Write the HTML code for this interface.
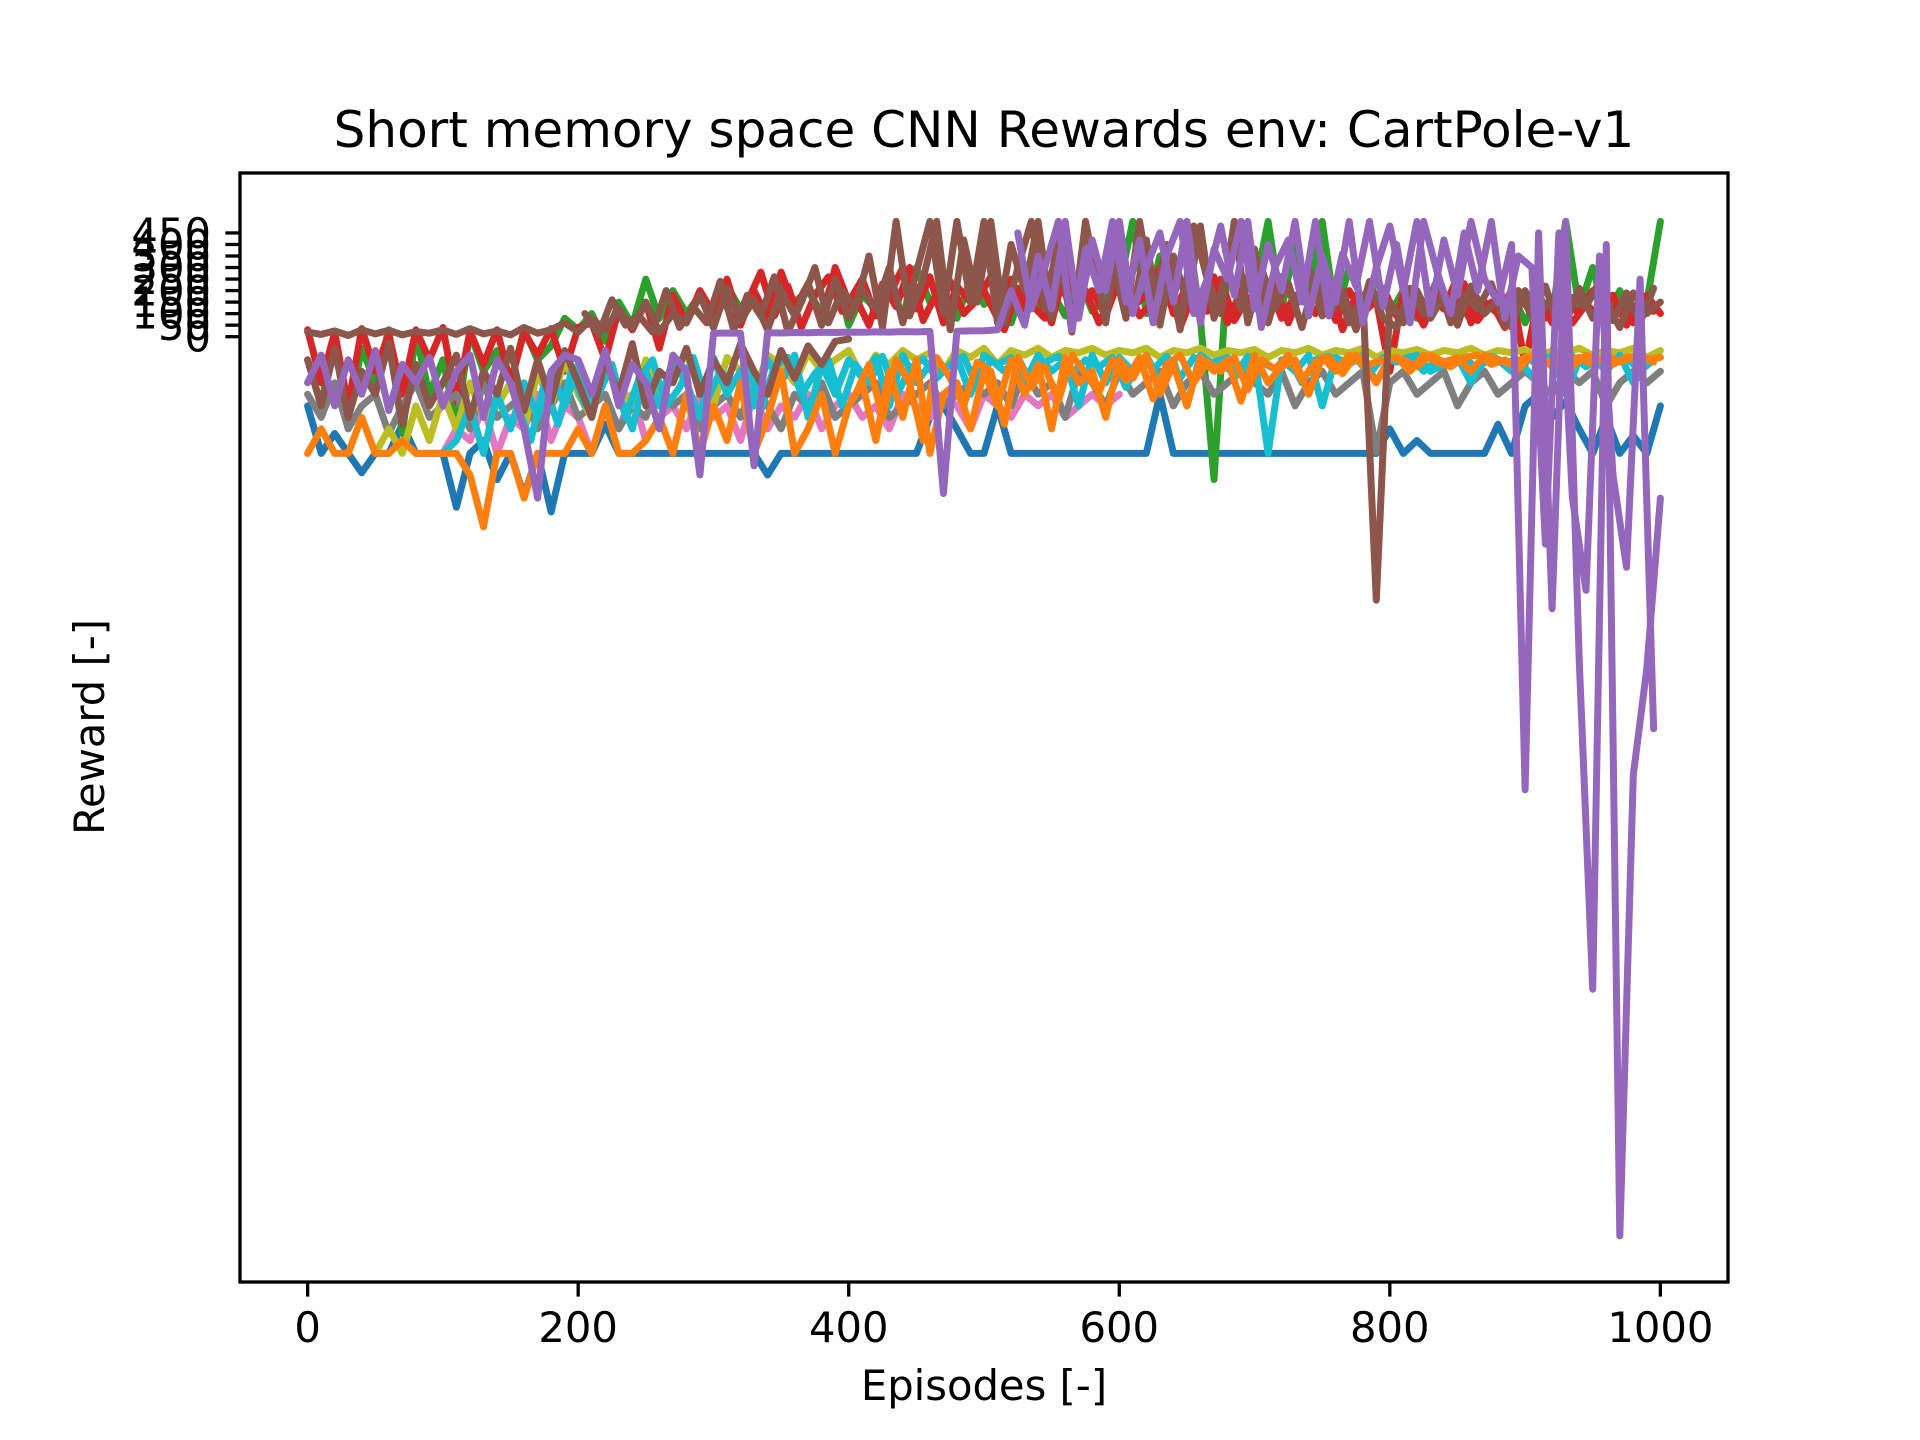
<!DOCTYPE html>
<html><head><meta charset="utf-8"><title>Short memory space CNN Rewards</title>
<style>
html,body{margin:0;padding:0;background:#fff;}
svg{display:block;font-family:"DejaVu Sans","Liberation Sans",sans-serif;}
</style></head>
<body>
<svg id="chart" width="1920" height="1440" viewBox="0 0 1920 1440" xmlns="http://www.w3.org/2000/svg">
<rect x="0" y="0" width="1920" height="1440" fill="#fff"/>
<text x="984" y="147" font-size="50" text-anchor="middle">Short memory space CNN Rewards env: CartPole-v1</text>
<defs><clipPath id="clip"><rect x="240" y="173" width="1488" height="1109"/></clipPath></defs>
<g id="lines" clip-path="url(#clip)"></g>
<g id="axes"></g>
<text x="984" y="1400" font-size="41.7" text-anchor="middle">Episodes [-]</text>
<text x="0" y="0" font-size="41.7" text-anchor="middle" transform="translate(104,727) rotate(-90)">Reward [-]</text>
</svg>
<script>
const xTicks = [0,200,400,600,800,1000];
const yTicks = [0,50,100,150,200,250,300,350,400,450];
const stepEp = 10;
const blue = [-300,-506,-420,-506,-590,-506,-506,-380,-506,-506,-506,-740,-506,-450,-620,-506,-690,-506,-760,-506,-506,-506,-380,-506,-506,-506,-506,-506,-506,-506,-506,-506,-506,-506,-600,-506,-506,-506,-506,-506,-506,-506,-506,-506,-506,-506,-350,-300,-400,-506,-506,-300,-506,-506,-506,-506,-506,-506,-506,-506,-506,-506,-506,-250,-506,-506,-506,-506,-506,-506,-506,-506,-506,-506,-506,-506,-506,-506,-506,-506,-400,-506,-450,-506,-506,-506,-506,-506,-380,-506,-300,-250,-350,-280,-400,-506,-350,-506,-430,-506,-300];
const green = [-100,-300,20,-350,-50,-200,30,-420,10,-250,-100,-380,20,-150,-60,-200,30,-100,-40,80,30,100,-20,150,50,250,80,200,100,180,60,220,120,180,80,250,150,200,100,280,50,180,120,220,90,300,150,200,80,250,140,180,60,230,120,200,90,260,110,180,220,500,100,350,150,500,80,-620,300,500,200,500,120,400,180,500,90,300,150,250,100,200,80,180,120,160,70,150,100,200,60,180,90,500,120,300,80,200,100,150,500];
const red = [30,-200,20,-300,35,-150,10,-250,30,-100,40,-280,25,-120,30,-200,20,-80,35,-150,40,60,-100,120,30,150,-50,180,60,200,100,250,50,200,80,280,120,230,60,300,150,250,90,180,300,120,260,60,220,150,200,80,250,120,180,60,300,150,200,90,250,130,180,300,100,220,150,260,60,200,120,240,80,180,140,220,70,200,100,160,-150,200,90,180,120,260,60,150,100,200,-120,180,60,150,100,200,90,140,60,180,100];
const red2Start = 305;
const red2 = [200,60,150,280,90,220,40,180,260,110,170,50,230,130,300,70,190,240,100,160,260,30,210,140,80,250,120,200,60,180,230,90,150,280,40,190,110,250,70,170,140,220,60,200,100,240,30,180,130,210,90,160,50,190,110,230,70,150,40,200,120,80,170,60,140,90,180,50,160,110];
const pinkStart = 100;
const pink = [-506,-400,-450,-300,-506,-350,-400,-250,-450,-300,-350,-506,-300,-400,-250,-450,-350,-300,-400,-250,-350,-300,-450,-250,-400,-300,-350,-250,-400,-300,-250,-350,-300,-400,-250,-300,-350,-250,-300,-400,-250,-300,-350,-250,-300,-250,-350,-300,-250,-300,-250];
const gray = [-250,-350,-200,-400,-300,-250,-420,-300,-200,-350,-300,-250,-400,-200,-350,-300,-250,-400,-300,-200,-350,-300,-250,-400,-300,-350,-200,-300,-250,-400,-300,-250,-350,-200,-300,-400,-250,-300,-200,-350,-300,-250,-200,-350,-300,-250,-200,-300,-250,-200,-250,-200,-300,-150,-250,-200,-350,-150,-200,-300,-150,-250,-200,-150,-300,-200,-150,-250,-200,-150,-200,-250,-150,-300,-200,-150,-250,-200,-150,-500,-200,-150,-250,-200,-150,-300,-200,-150,-250,-200,-150,-200,-250,-150,-200,-150,-300,-200,-150,-200,-150];
const oliveStart = 50;
const olive = [-506,-400,-506,-300,-450,-250,-400,-200,-350,-300,-200,-400,-150,-300,-100,-250,-350,-120,-200,-300,-100,-250,-150,-80,-200,-300,-90,-150,-250,-80,-120,-200,-70,-150,-100,-60,-180,-80,-120,-60,-100,-70,-150,-60,-90,-50,-120,-60,-80,-50,-90,-60,-70,-50,-80,-60,-70,-50,-90,-60,-70,-50,-80,-60,-70,-55,-90,-60,-70,-50,-80,-60,-70,-50,-90,-60,-70,-55,-80,-60,-70,-50,-80,-60,-70,-55,-90,-60,-70,-50,-80,-60,-70,-50,-90,-60];
const cyanStart = 100;
const cyan = [-506,-450,-300,-506,-250,-400,-200,-350,-150,-300,-120,-350,-100,-250,-400,-150,-300,-100,-200,-350,-90,-250,-150,-300,-100,-200,-80,-350,-120,-250,-100,-180,-90,-300,-80,-200,-120,-150,-90,-250,-80,-120,-90,-200,-80,-150,-100,-300,-80,-200,-90,-150,-80,-200,-100,-300,-80,-120,-90,-150,-80,-506,-100,-150,-80,-300,-90,-120,-80,-200,-90,-100,-80,-150,-120,-90,-200,-80,-100,-150,-90,-120,-80,-250,-100,-90,-150,-80,-200,-100,-90];
const cyan2Start = 155;
const cyan2 = [-300,-450,-200,-380,-150,-300,-250,-120,-350,-180,-100,-300,-220,-90,-280,-150,-200,-110,-320,-130,-90,-250,-160,-100,-300,-120,-200,-85,-260,-140,-95,-180,-120,-85,-220,-100,-150,-90,-200,-110,-85,-160,-100,-130,-90,-220,-95,-140,-85,-180,-90,-120,-100,-170,-85,-110,-140,-90,-200,-100,-85,-130,-95,-160,-90,-110,-85,-150,-100,-120,-90,-140,-85,-110,-100,-170,-90,-120,-85,-130,-95,-110,-90,-150,-100];
const orange = [-506,-400,-506,-506,-350,-506,-506,-450,-506,-506,-506,-506,-600,-825,-506,-506,-700,-506,-506,-506,-400,-506,-300,-506,-506,-450,-350,-506,-250,-506,-300,-450,-200,-506,-350,-150,-506,-400,-250,-506,-300,-200,-450,-150,-350,-100,-506,-250,-200,-400,-150,-300,-100,-250,-120,-400,-90,-200,-150,-350,-100,-180,-80,-250,-120,-300,-90,-150,-100,-280,-80,-200,-130,-100,-250,-90,-150,-80,-120,-200,-90,-100,-130,-80,-110,-90,-150,-80,-100,-120,-90,-80,-130,-100,-90,-120,-80,-110,-90,-100,-90];
const orange2Start = 405;
const orange2 = [-250,-120,-350,-100,-200,-450,-90,-180,-300,-110,-150,-380,-90,-220,-130,-280,-80,-160,-240,-100,-190,-90,-270,-120,-80,-200,-110,-150,-90,-230,-100,-140,-80,-190,-110,-90,-160,-80,-120,-100,-90,-150,-80,-110,-130,-90,-80,-120,-100,-140,-80,-110,-90,-130,-80,-100,-120,-90,-80,-110];
const brownB = [-100,-300,-50,-350,-150,-250,-30,-380,-120,-300,-200,-80,-350,-150,-250,-50,-320,-100,-280,-60,-200,-350,-100,-250,-30,-300,-150,-200,-50,-250,-100,-200,-30,-150,-250,-60,-180,-40,-120,-20,-10];
const brownA = [20,10,25,5,30,12,28,8,22,15,30,10,35,12,25,8,40,15,30,60,20,80,30,120,40,150,20,100,60,180,40,210,70,160,30,200,90,230,50,250,80,200,120,300,60,280,500,100,500,150,500,60,400,200,500,80,450,120,380,60,500,100,420,50,350,150,480,80,300,120,380,60,260,140,300,90,220,60,180,-1143,150,60,200,80,180,50,220,100,160,40,200,90,170,60,210,80,150,40,190,100,150];
const brown2Start = 205;
const brown2 = [100,10,160,50,90,20,200,40,130,60,240,30,180,90,260,20,150,300,60,200,130,350,40,500,90,250,500,30,420,150,500,60,300,500,120,420,20,500,200,330,80,500,150,400,30,480,250,100,500,60,300,120,230,40,260,90,200,30,240,80,40,210,100,250,60,180,120,230,50,200,90,220,40,170,130,240,70,190,60,210];
const purple = [-200,-80,-300,-100,-250,-60,-320,-120,-200,-90,-300,-150,-80,-350,-100,-200,-400,-700,-150,-80,-100,-250,-60,-300,-120,-200,-400,-80,-150,-600,15,16,15,-560,17,16,18,17,19,18,20,19,21,20,22,21,23,-680,24,25,26,30,200,50,350,120,500,80,420,200,500,100,300,450,150,500,60,380,250,500,120,400,200,500,90,350,150,500,60,300,480,200,500,100,420,180,500,250,150,400,-1965,450,-1180,500,-1400,-2830,400,-3900,-1900,-1440,-700];
const purple2Start = 525;
const purple2 = [450,120,300,500,30,380,200,500,150,420,60,350,500,100,250,480,180,500,40,300,420,150,500,90,360,220,500,130,400,60,500,280,100,450,200,500,80,350,300,-900,450,-700,-1100,350,-600,-1000,250,-1700];

const X0=240, X1=1728, Y0=173, Y1=1282;
const xMin=-50, xMax=1050, yMin=-4100, yMax=710;
function sx(v){return X0+(v-xMin)/(xMax-xMin)*(X1-X0);}
function sy(v){return Y0+(yMax-v)/(yMax-yMin)*(Y1-Y0);}
const NS="http://www.w3.org/2000/svg";
const lines=document.getElementById('lines');
const axes=document.getElementById('axes');
function drawSeries(vals,start,color,name){
  let d='';
  vals.forEach((v,i)=>{d+=(i?'L':'M')+sx(start+i*stepEp).toFixed(1)+' '+sy(v).toFixed(1);});
  const p=document.createElementNS(NS,'path');
  p.setAttribute('d',d);
  p.setAttribute('fill','none');
  p.setAttribute('stroke',color);
  p.setAttribute('stroke-width','7');
  p.setAttribute('stroke-linejoin','round');
  p.setAttribute('stroke-linecap','round');
  
  
  lines.appendChild(p);
}
drawSeries(blue,0,'#1f77b4','series-blue');
drawSeries(green,0,'#2ca02c','series-green');
drawSeries(red,0,'#d62728','series-red');
drawSeries(red2,red2Start,'#d62728','series-red-2');
drawSeries(pink,pinkStart,'#e377c2','series-pink');
drawSeries(gray,0,'#7f7f7f','series-gray');
drawSeries(olive,oliveStart,'#bcbd22','series-olive');
drawSeries(cyan,cyanStart,'#17becf','series-cyan');
drawSeries(cyan2,cyan2Start,'#17becf','series-cyan-2');
drawSeries(orange,0,'#ff7f0e','series-orange');
drawSeries(orange2,orange2Start,'#ff7f0e','series-orange-2');
drawSeries(brownB,0,'#8c564b','series-brown-low');
drawSeries(brownA,0,'#8c564b','series-brown');
drawSeries(brown2,brown2Start,'#8c564b','series-brown-2');
drawSeries(purple,0,'#9467bd','series-purple');
drawSeries(purple2,purple2Start,'#9467bd','series-purple-2');

const frame=document.createElementNS(NS,'rect');
frame.setAttribute('x',X0);frame.setAttribute('y',Y0);
frame.setAttribute('width',X1-X0);frame.setAttribute('height',Y1-Y0);
frame.setAttribute('fill','none');frame.setAttribute('stroke','#000');frame.setAttribute('stroke-width','3.3');


axes.appendChild(frame);

xTicks.forEach(t=>{
  const x=sx(t);
  const l=document.createElementNS(NS,'line');
  l.setAttribute('x1',x);l.setAttribute('x2',x);l.setAttribute('y1',Y1);l.setAttribute('y2',Y1+14.6);
  l.setAttribute('stroke','#000');l.setAttribute('stroke-width','3.3');
  
  
  axes.appendChild(l);
  const tx=document.createElementNS(NS,'text');
  tx.setAttribute('x',x);tx.setAttribute('y',Y1+60);
  tx.setAttribute('font-size','41.7');tx.setAttribute('text-anchor','middle');
  tx.textContent=t;
  
  
  axes.appendChild(tx);
});
yTicks.forEach(t=>{
  const y=sy(t);
  const l=document.createElementNS(NS,'line');
  l.setAttribute('x1',X0-14.6);l.setAttribute('x2',X0);l.setAttribute('y1',y);l.setAttribute('y2',y);
  l.setAttribute('stroke','#000');l.setAttribute('stroke-width','3.3');
  
  
  axes.appendChild(l);
  const tx=document.createElementNS(NS,'text');
  tx.setAttribute('x',X0-29);tx.setAttribute('y',y+15);
  tx.setAttribute('font-size','41.7');tx.setAttribute('text-anchor','end');
  tx.textContent=t;
  
  
  axes.appendChild(tx);
});
</script>
</body></html>
